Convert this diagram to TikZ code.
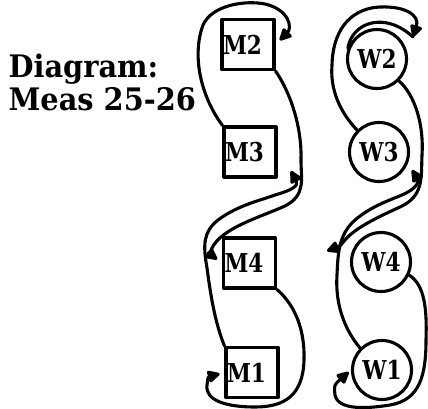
\documentclass[tikz,border=0pt]{standalone}
\usepackage{fontspec}
\setmainfont{DejaVu Serif}
\usetikzlibrary{arrows.meta}
\newcommand{\narrow}[2]{\scalebox{#1}[1]{#2}}
\begin{document}
\begin{tikzpicture}[x=1pt, y=-1pt,
  line width=3.1pt, line cap=round, line join=round,
  mbox/.style={draw, rectangle, line width=3.1pt,
    minimum width=52pt, minimum height=50pt,
    text width=50pt, align=left, inner xsep=0pt, inner ysep=0pt,
    font=\fontsize{26}{28}\selectfont\bfseries},
  wcirc/.style={draw, circle, line width=3.1pt, minimum size=59pt,
    inner sep=0pt, font=\fontsize{26}{28}\selectfont\bfseries},
  title/.style={anchor=base west, inner sep=0pt,
    font=\fontsize{31}{34}\selectfont\bfseries},
  conn/.style={-{Triangle[length=14pt,width=13pt,round]}},
  plain/.style={}]
\useasboundingbox (0,0) rectangle (428,408);

% caption at the left
\node[title] (cap1) at (7,77) {\narrow{0.93}{Diagram:}};
\node[title] (cap2) at (7,110) {\narrow{0.93}{Meas 25-26}};

% left column: square boxes
\node[mbox] (M2) at (248,44.5) {\narrow{0.83}{M2}};
\node[mbox] (M3) at (250,152) {\narrow{0.83}{M3}};
\node[mbox] (M4) at (249.5,263) {\narrow{0.83}{M4}};
\node[mbox] (M1) at (252,372.5) {\narrow{0.83}{M1}};

% right column: circles
\node[wcirc] (W2) at (377,59) {\narrow{0.83}{W2}};
\node[wcirc] (W3) at (379,152) {\narrow{0.83}{W3}};
\node[wcirc] (W4) at (381,262) {\narrow{0.83}{W4}};
\node[wcirc] (W1) at (382,370) {\narrow{0.83}{W1}};

% arrow targets beside the nodes
\coordinate (m3in) at (291,171);
\coordinate (w2in) at (413,37);
\coordinate (w3in) at (412,170);
\coordinate (w4in) at (327,251);

% ---- left column loops ----
% M3 -> M2, round the top
\draw[conn, shorten >=6pt] (M3.north west)
  .. controls (200,95) and (192,55) .. (203,25)
  .. controls (212,5) and (245,0) .. (265,4)
  .. controls (290,10) and (292,28) .. (M2.east);
% M2 -> M4, down the right side and across
\draw[conn, shorten >=6pt] (M2.south east)
  .. controls (292,95) and (302,130) .. (301,160)
  .. controls (301,180) and (306,195) .. (285,206)
  .. controls (258,218) and (222,228) .. (212,248)
  .. controls (210,254) .. (M4.west);
% M1 -> M3, up the left side and across
\draw[conn] (M1.north west)
  .. controls (214,320) and (210,290) .. (207,268)
  .. controls (203,245) and (203,232) .. (218,220)
  .. controls (238,205) and (262,200) .. (275,195)
  .. controls (292,190) and (299,186) .. (m3in);
% M4 -> M1, round the bottom
\draw[conn, shorten >=5pt] (M4.south east)
  .. controls (295,305) and (305,330) .. (304,360)
  .. controls (303,395) and (285,407) .. (255,407)
  .. controls (225,407) and (205,400) .. (207,385)
  .. controls (208,377) .. (M1.west);

% ---- right column loops ----
% W3 -> W2, round the top (stroke drawn twice)
\draw[conn] (W3.north west)
  .. controls (340,112) and (330,90) .. (332,65)
  .. controls (333,25) and (355,8) .. (380,7)
  .. controls (405,6) and (420,15) .. (w2in);
\draw[plain] (W2.160)
  .. controls (352,22) and (385,11) .. (w2in);
% W2 -> W4, down the right side and across
\draw[conn] (W2.south east)
  .. controls (415,95) and (424,125) .. (422,155)
  .. controls (421,178) and (424,196) .. (400,207)
  .. controls (378,217) and (355,228) .. (345,240)
  .. controls (340,246) .. (w4in);
% W1 -> W3, up the left side and across
\draw[conn] (W1.north west)
  .. controls (345,330) and (335,305) .. (337,275)
  .. controls (338,255) and (338,235) .. (355,220)
  .. controls (375,203) and (398,198) .. (408,192)
  .. controls (417,187) and (419,181) .. (w3in);
% W4 -> W1, round the bottom
\draw[conn, shorten >=3pt] (W4.-25)
  .. controls (425,285) and (427,310) .. (426,340)
  .. controls (426,375) and (420,400) .. (390,405)
  .. controls (365,409) and (338,410) .. (335,395)
  .. controls (334,385) .. (W1.west);
\end{tikzpicture}
\end{document}
